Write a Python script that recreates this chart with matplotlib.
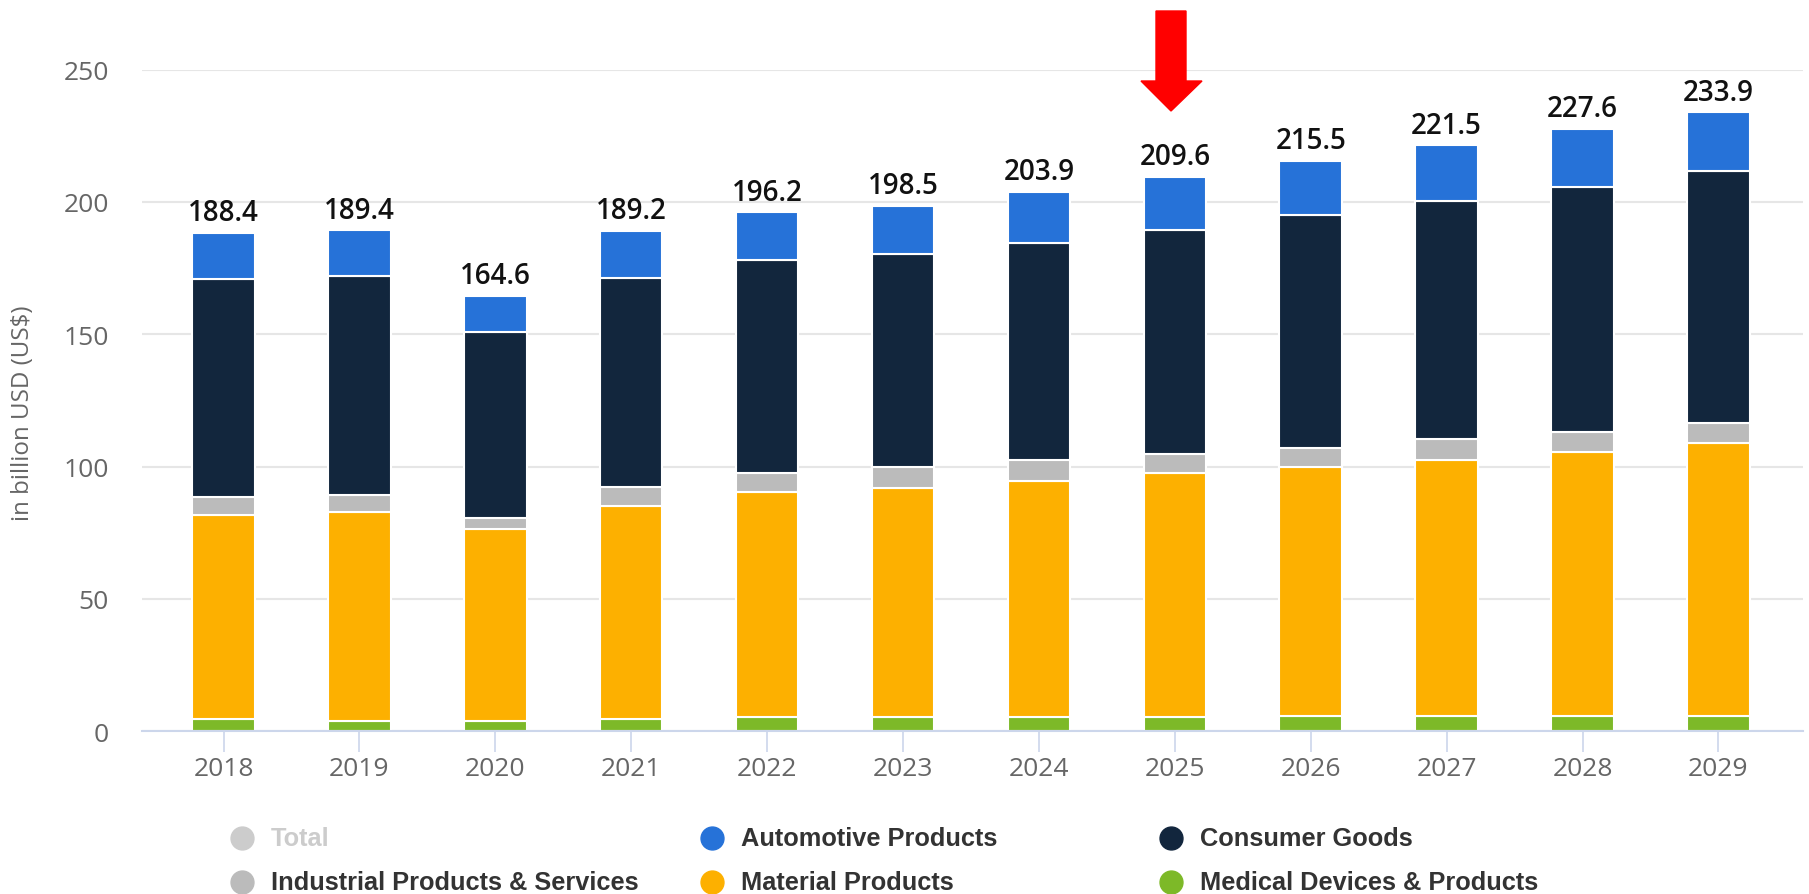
import matplotlib
matplotlib.use("Agg")
import matplotlib.pyplot as plt
import numpy as np
from matplotlib.patches import Polygon
from matplotlib.lines import Line2D

# data (billion USD)
years = ['2018', '2019', '2020', '2021', '2022', '2023', '2024', '2025', '2026', '2027', '2028', '2029']
totals = [188.4, 189.4, 164.6, 189.2, 196.2, 198.5, 203.9, 209.6, 215.5, 221.5, 227.6, 233.9]
medical = [4.6, 3.8, 3.7, 4.6, 5.2, 5.2, 5.2, 5.2, 5.6, 5.6, 5.6, 5.6]
material = [77.2, 79.0, 72.6, 80.6, 85.0, 86.6, 89.2, 92.3, 94.3, 97.0, 99.8, 103.4]
industrial = [6.8, 6.4, 4.4, 7.1, 7.4, 7.9, 7.9, 7.1, 7.1, 8.0, 7.6, 7.6]
consumer = [82.3, 83.0, 70.3, 78.9, 80.6, 80.5, 82.2, 84.8, 88.1, 89.6, 92.6, 95.2]
automotive = [17.5, 17.2, 13.6, 18.0, 18.0, 18.3, 19.4, 20.2, 20.4, 21.3, 22.0, 22.1]

series = [
    ('Medical Devices & Products', medical, '#7db928'),
    ('Material Products', material, '#fdb000'),
    ('Industrial Products & Services', industrial, '#bbbbbb'),
    ('Consumer Goods', consumer, '#12263d'),
    ('Automotive Products', automotive, '#2672d8'),
]

plt.rcParams['font.family'] = ['Open Sans', 'DejaVu Sans']

W, H = 1809, 895
fig = plt.figure(figsize=(W / 100, H / 100), dpi=100)
ax = fig.add_axes([0.0785, 0.182, 0.918, 0.739])

x = np.arange(len(years))
bottom = np.zeros(len(years))
for name, vals, col in series:
    ax.bar(x, vals, width=0.46, bottom=bottom, color=col, edgecolor='white', linewidth=1.5, zorder=3)
    bottom += np.array(vals)

for i, t in enumerate(totals):
    ax.annotate(f'{t:.1f}', (x[i], t), xytext=(0, 9), textcoords='offset points',
                ha='center', va='baseline', fontsize=20, fontweight='semibold', color='#111111',
                annotation_clip=False, zorder=5)

ax.set_xlim(-0.6, 11.62)
ax.set_ylim(0, 250)
ax.set_yticks([0, 50, 100, 150, 200, 250])
ax.set_xticks(x)
ax.set_xticklabels(years)
ax.tick_params(axis='y', length=0, pad=24, labelsize=19, labelcolor='#666666')
ax.tick_params(axis='x', length=15, width=1.2, color='#ccd6eb', pad=3, labelsize=19, labelcolor='#666666')
ax.grid(axis='y', color='#e6e6e6', linewidth=1.5, zorder=0)
for s in ['top', 'right', 'left']:
    ax.spines[s].set_visible(False)
ax.spines['bottom'].set_color('#ccd6eb')
ax.spines['bottom'].set_linewidth(1.5)
ax.spines['bottom'].set_zorder(4)
ax.set_ylabel('in billion USD (US$)', fontsize=17.4, color='#666666')
ax.yaxis.set_label_coords(-0.0644, 0.482)

# legend, laid out by hand in three columns / two rows
legend_rows = [
    [('Total', '#cccccc', '#cccccc'), ('Automotive Products', '#2672d8', '#333333'),
     ('Consumer Goods', '#12263d', '#333333')],
    [('Industrial Products & Services', '#bbbbbb', '#333333'), ('Material Products', '#fdb000', '#333333'),
     ('Medical Devices & Products', '#7db928', '#333333')],
]
col_x = [242, 712, 1171]
row_y = [839, 883]
for r, row in enumerate(legend_rows):
    for c, (name, mcol, tcol) in enumerate(row):
        fy = 1 - row_y[r] / H
        fig.add_artist(Line2D([col_x[c] / W], [fy], marker='o', markersize=16.5, color=mcol,
                              linestyle='', transform=fig.transFigure))
        fig.text((col_x[c] + 29) / W, fy, name, ha='left', va='center', color=tcol,
                 fontsize=18.3, fontweight='bold', family=['Liberation Sans', 'DejaVu Sans'])

# red arrow pointing at 2025
pts = [(1156, 12), (1186, 12), (1186, 82), (1202, 82), (1171, 112), (1141, 82), (1156, 82)]
arrow = Polygon([(px / W, 1 - py / H) for px, py in pts], closed=True, color='#ff0000',
                transform=fig.transFigure, zorder=10)
fig.patches.append(arrow)

fig.savefig('out.png', dpi=100)
